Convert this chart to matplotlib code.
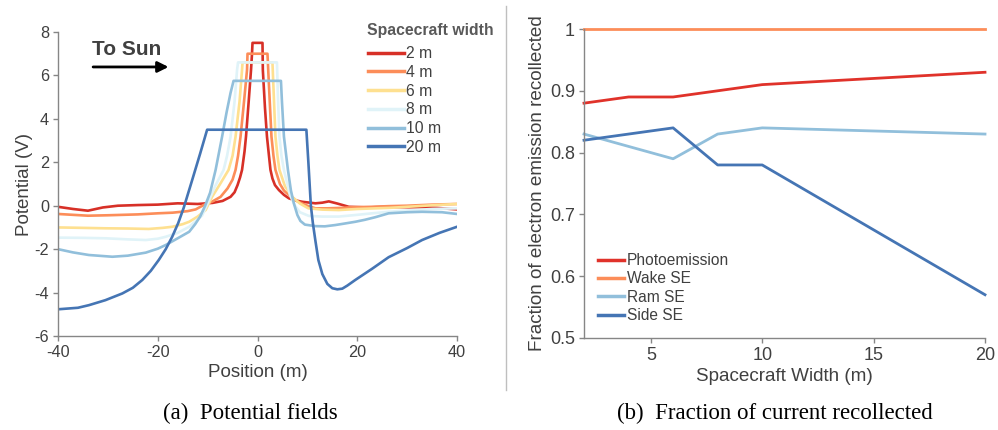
import matplotlib
matplotlib.use("Agg")
import matplotlib.pyplot as plt
from matplotlib.lines import Line2D

plt.rcParams['font.family'] = ['Liberation Sans', 'DejaVu Sans']

# ---------------- data: panel (a) potential profiles ----------------
widths = ["2 m", "4 m", "6 m", "8 m", "10 m", "20 m"]
colors_a = ["#d73027", "#fc8d59", "#fee090", "#e0f3f8", "#91bfdb", "#4575b4"]

x_2m = [-40, -37, -34, -31, -28, -24, -20, -16, -12, -9, -7, -5.4, -4.6, -4.0, -3.5, -3.1, -2.6,
        -2.3, -1.8, -1.3, -1.1, -1.0, 1.0, 1.07, 1.5, 1.9, 2.3, 2.6, 3.0, 3.5, 4.3, 5.3, 6.3,
        7.5, 9, 11.6, 13, 14.3, 16, 18.3, 22, 26, 30, 33, 36, 40]
y_2m = [-0.05, -0.15, -0.23, -0.08, 0.0, 0.03, 0.05, 0.11, 0.08, 0.13, 0.22, 0.41, 0.62, 0.95,
        1.3, 1.65, 2.5, 3.2, 4.7, 6.25, 7.0, 7.5, 7.5, 6.25, 4.5, 3.18, 2.3, 1.65, 1.25, 0.95,
        0.72, 0.5, 0.34, 0.25, 0.18, 0.11, 0.14, 0.2, 0.1, -0.05, -0.08, -0.05, -0.07, -0.07,
        -0.1, -0.17]

x_4m = [-40, -37, -34, -30, -27, -24, -20, -17, -14, -12.4, -10.8, -9, -7.4, -6, -5, -4.4, -3.9,
        -3.4, -2.7, -2.1, -2.0, 2.0, 2.2, 2.8, 3.2, 3.6, 4.5, 5.3, 6.3, 8, 10, 11.6, 14, 17, 19,
        23, 26.3, 30, 35, 40]
y_4m = [-0.38, -0.42, -0.46, -0.44, -0.42, -0.4, -0.35, -0.32, -0.25, -0.17, 0.03, 0.2, 0.41,
        0.8, 1.2, 1.65, 2.3, 3.18, 4.8, 6.25, 7.0, 7.0, 6.0, 3.18, 2.3, 1.65, 1.0, 0.7, 0.49,
        0.2, 0.0, -0.12, -0.12, -0.1, -0.07, -0.05, -0.02, 0.0, 0.05, 0.08]

x_6m = [-40, -35, -30.5, -26, -21.8, -19, -17.1, -15, -13.7, -12, -10.4, -9.1, -7.5, -5.8, -5.0,
        -4.4, -3.6, -3.1, -3.0, 3.0, 3.1, 3.6, 4.0, 4.4, 5.5, 7, 8.5, 10.2, 13, 16.3, 20, 26.3,
        30, 35, 40]
y_6m = [-1.0, -1.02, -1.04, -1.05, -1.07, -1.02, -0.97, -0.85, -0.74, -0.5, -0.2, 0.41, 1.0,
        1.65, 2.3, 3.18, 4.8, 6.25, 6.6, 6.6, 6.0, 3.18, 2.3, 1.65, 0.9, 0.4, 0.1, -0.12, -0.18,
        -0.2, -0.15, -0.1, -0.05, 0.02, 0.08]

x_8m = [-40, -35, -30.5, -26, -22.4, -20, -18.4, -16, -13.7, -11.1, -10, -8.5, -6.8, -6.1, -5.4,
        -4.6, -4.1, -3.9, 3.9, 4.1, 4.4, 4.8, 5.3, 6.5, 7.5, 8.5, 10.3, 13, 16.3, 20, 23, 26.3,
        30, 35, 40]
y_8m = [-1.47, -1.48, -1.5, -1.55, -1.58, -1.52, -1.43, -1.25, -0.97, -0.45, 0.1, 0.9, 1.65,
        2.3, 3.18, 4.8, 6.25, 6.6, 6.6, 5.0, 3.18, 2.3, 1.65, 0.5, 0.0, -0.3, -0.47, -0.5, -0.5,
        -0.42, -0.35, -0.28, -0.22, -0.15, -0.12]

x_10m = [-40, -37, -33.8, -29.1, -26, -22.4, -20, -18.4, -16, -13.7, -12.5, -11.5, -10.5, -9.5,
         -8.4, -7.1, -6.2, -5.4, -4.8, 4.7, 4.9, 5.3, 6.1, 6.7, 7.3, 8.0, 8.6, 9.5, 11.6, 13.5,
         15.6, 17.5, 19.6, 21.5, 23.6, 26.3, 30, 33, 37, 40]
y_10m = [-2.0, -2.15, -2.27, -2.35, -2.3, -2.16, -1.98, -1.81, -1.5, -1.2, -0.85, -0.5, 0.0, 0.6,
         1.65, 3.18, 4.3, 5.2, 5.75, 5.75, 4.8, 3.18, 1.65, 0.7, 0.1, -0.43, -0.7, -0.87, -0.94,
         -0.95, -0.89, -0.82, -0.74, -0.65, -0.53, -0.35, -0.3, -0.28, -0.3, -0.38]

x_20m = [-40, -36, -33.8, -30.5, -27.1, -25, -23.1, -21.4, -19.8, -18.4, -17.1, -15.9, -14.8,
         -13.1, -11.5, -10.1, 9.8, 10.2, 10.7, 11.1, 11.6, 12.2, 13, 14, 15, 16, 17, 18, 19.6,
         23, 26.3, 30, 33, 36.5, 40]
y_20m = [-4.77, -4.7, -4.58, -4.35, -4.04, -3.78, -3.42, -3.0, -2.5, -2.0, -1.43, -0.8, -0.1,
         1.18, 2.4, 3.5, 3.5, 2.0, 0.0, -0.8, -1.6, -2.5, -3.15, -3.6, -3.8, -3.85, -3.82, -3.68,
         -3.42, -2.9, -2.37, -1.95, -1.58, -1.25, -0.97]

series_a = [(x_2m, y_2m), (x_4m, y_4m), (x_6m, y_6m), (x_8m, y_8m), (x_10m, y_10m), (x_20m, y_20m)]

xticks_a = [-40, -20, 0, 20, 40]
yticks_a = [-6, -4, -2, 0, 2, 4, 6, 8]

# ---------------- data: panel (b) fraction recollected ----------------
sc_width = [2, 4, 6, 8, 10, 20]
photoemission = [0.88, 0.89, 0.89, 0.90, 0.91, 0.93]
wake_se = [1.0, 1.0, 1.0, 1.0, 1.0, 1.0]
ram_se = [0.83, 0.81, 0.79, 0.83, 0.84, 0.83]
side_se = [0.82, 0.83, 0.84, 0.78, 0.78, 0.57]
labels_b = ["Photoemission", "Wake SE", "Ram SE", "Side SE"]
colors_b = ["#e0322a", "#fc8d59", "#91bfdb", "#4575b4"]

xticks_b = [5, 10, 15, 20]
yticks_b = [0.5, 0.6, 0.7, 0.8, 0.9, 1.0]
yticklabels_b = ["0.5", "0.6", "0.7", "0.8", "0.9", "1"]

# ---------------- figure ----------------
W, H = 998, 430
fig = plt.figure(figsize=(W / 100, H / 100), dpi=100)

txt = "#404040"
spine_c = "#868686"

def style_axes(ax, fs):
    for s in ["top", "right"]:
        ax.spines[s].set_visible(False)
    for s in ["left", "bottom"]:
        ax.spines[s].set_color(spine_c)
        ax.spines[s].set_linewidth(1.0)
    ax.tick_params(axis="both", colors=spine_c, labelcolor=txt, labelsize=fs,
                   length=3.5, width=1.0, direction="out", pad=3)

# panel (a)
axa = fig.add_axes([58 / W, 1 - 336 / H, 399 / W, 304 / H])
for (xs, ys), c, lab in zip(series_a, colors_a, widths):
    axa.plot(xs, ys, color=c, lw=1.9, label=lab, solid_joinstyle="round")
axa.set_xlim(-40, 40)
axa.set_ylim(-6, 8)
axa.set_xticks(xticks_a)
axa.set_xticklabels([str(v) for v in xticks_a])
axa.set_yticks(yticks_a)
axa.set_yticklabels([str(v) for v in yticks_a])
style_axes(axa, 11.7)
axa.set_xlabel("Position (m)", fontsize=13.5, color=txt, labelpad=3)
axa.set_ylabel("Potential (V)", fontsize=13.5, color=txt, labelpad=1)

axa.annotate("", xy=(0.277, 0.885), xytext=(0.088, 0.885), xycoords="axes fraction",
             arrowprops=dict(arrowstyle="-|>", color="black", lw=2.0,
                             mutation_scale=16, shrinkA=0, shrinkB=0))
axa.text(0.171, 0.944, "To Sun", transform=axa.transAxes, ha="center", va="center",
         fontsize=15, fontweight="bold", color="#404040")

fig.text(367 / W, 1 - 31 / H, "Spacecraft width", ha="left", va="center",
         fontsize=11.3, fontweight="bold", color="#595959")
leg_a = axa.legend(loc="upper left", bbox_to_anchor=(368 / W, 1 - 46 / H),
                   bbox_transform=fig.transFigure, frameon=False, fontsize=11.3,
                   handlelength=2.3, handletextpad=0.15, labelspacing=0.24,
                   borderpad=0, borderaxespad=0)
for t in leg_a.get_texts():
    t.set_color(txt)
for h in leg_a.get_lines():
    h.set_linewidth(2.5)

# panel (b)
axb = fig.add_axes([584 / W, 1 - 338 / H, 401 / W, 309 / H])
for ys, c, lab in zip([photoemission, wake_se, ram_se, side_se], colors_b, labels_b):
    axb.plot(sc_width, ys, color=c, lw=2.0, label=lab, clip_on=False)
axb.set_xlim(2, 20)
axb.set_ylim(0.5, 1.0)
axb.set_xticks(xticks_b)
axb.set_xticklabels([str(v) for v in xticks_b])
axb.set_yticks(yticks_b)
axb.set_yticklabels(yticklabels_b)
style_axes(axb, 13)
axb.set_xlabel("Spacecraft Width (m)", fontsize=13.6, color=txt, labelpad=3)
axb.set_ylabel("Fraction of electron emission recollected", fontsize=13.6, color=txt, labelpad=3)

leg_b = axb.legend(loc="upper left", bbox_to_anchor=(598 / W, 1 - 253 / H),
                   bbox_transform=fig.transFigure, frameon=False, fontsize=11.2,
                   handlelength=1.7, handletextpad=0.15, labelspacing=0.22,
                   borderpad=0, borderaxespad=0)
for t in leg_b.get_texts():
    t.set_color(txt)
for h in leg_b.get_lines():
    h.set_linewidth(2.5)

# separator between subfigures
fig.add_artist(Line2D([506 / W, 506 / W], [1 - 6 / H, 1 - 390 / H], color="#bfbfbf", lw=1.0))

# captions
fig.text(250 / W, 1 - 413 / H, "(a)  Potential fields", ha="center", va="center",
         fontsize=16.5, family=["Liberation Serif", "DejaVu Serif"], color="black")
fig.text(775 / W, 1 - 413 / H, "(b)  Fraction of current recollected", ha="center", va="center",
         fontsize=16.5, family=["Liberation Serif", "DejaVu Serif"], color="black")

fig.savefig("out.png", dpi=100)
